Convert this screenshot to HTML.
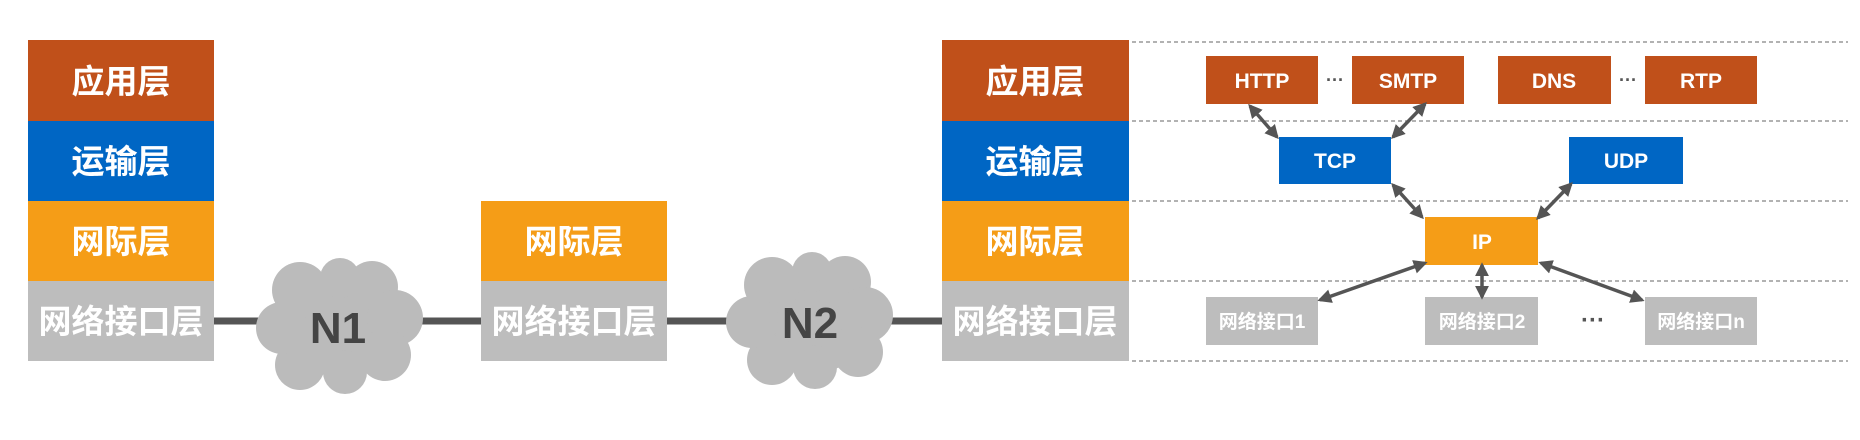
<!DOCTYPE html>
<html><head><meta charset="utf-8"><style>
body{margin:0;background:#fff;}
svg{display:block}
text{font-family:"Liberation Sans","Noto Sans CJK SC",sans-serif;font-weight:bold;}
</style></head><body>
<svg width="1860" height="440" viewBox="0 0 1860 440" xmlns="http://www.w3.org/2000/svg">
<defs>
<marker id="a" viewBox="0 0 10 10" refX="8" refY="5" markerWidth="4" markerHeight="4" orient="auto-start-reverse"><path d="M0,0L10,5L0,10z" fill="#555"/></marker>
</defs>
<!-- connecting line -->
<line x1="214" y1="321" x2="942" y2="321" stroke="#555" stroke-width="7"/>
<!-- left stack -->
<rect x="28" y="40" width="186" height="81" fill="#C0501A"/>
<rect x="28" y="121" width="186" height="80" fill="#0066C4"/>
<rect x="28" y="201" width="186" height="80" fill="#F59D17"/>
<rect x="28" y="281" width="186" height="80" fill="#BDBDBD"/>
<g fill="#fff" font-size="33" text-anchor="middle">
<text x="121" y="93">应用层</text>
<text x="121" y="173">运输层</text>
<text x="121" y="253">网际层</text>
<text x="121" y="333">网络接口层</text>
</g>
<!-- middle -->
<rect x="481" y="201" width="186" height="80" fill="#F59D17"/>
<rect x="481" y="281" width="186" height="80" fill="#BDBDBD"/>
<g fill="#fff" font-size="33" text-anchor="middle">
<text x="574" y="253">网际层</text>
<text x="574" y="333">网络接口层</text>
</g>
<!-- right stack -->
<rect x="942" y="40" width="187" height="81" fill="#C0501A"/>
<rect x="942" y="121" width="187" height="80" fill="#0066C4"/>
<rect x="942" y="201" width="187" height="80" fill="#F59D17"/>
<rect x="942" y="281" width="187" height="80" fill="#BDBDBD"/>
<g fill="#fff" font-size="33" text-anchor="middle">
<text x="1035" y="93">应用层</text>
<text x="1035" y="173">运输层</text>
<text x="1035" y="253">网际层</text>
<text x="1035" y="333">网络接口层</text>
</g>
<!-- clouds -->
<g fill="#BBBBBB">
<ellipse cx="340" cy="326" rx="70" ry="50"/>
<circle cx="300" cy="290" r="28"/><circle cx="340" cy="278" r="20"/><circle cx="372" cy="287" r="26"/>
<circle cx="395" cy="318" r="28"/><circle cx="385" cy="355" r="26"/><circle cx="345" cy="372" r="22"/>
<circle cx="300" cy="365" r="25"/><circle cx="282" cy="328" r="26"/>
</g>
<text x="338" y="343" font-size="44" fill="#444" text-anchor="middle">N1</text>
<g fill="#BBBBBB">
<ellipse cx="810" cy="322" rx="70" ry="50"/>
<circle cx="772" cy="285" r="28"/><circle cx="812" cy="272" r="20"/><circle cx="845" cy="282" r="26"/>
<circle cx="865" cy="315" r="28"/><circle cx="858" cy="352" r="25"/><circle cx="815" cy="367" r="22"/>
<circle cx="772" cy="360" r="25"/><circle cx="752" cy="322" r="26"/>
</g>
<text x="810" y="338" font-size="44" fill="#444" text-anchor="middle">N2</text>
<!-- dashed lines -->
<g stroke="#999" stroke-width="1.5" stroke-dasharray="4,3">
<line x1="1132" y1="42" x2="1848" y2="42"/>
<line x1="1132" y1="121" x2="1848" y2="121"/>
<line x1="1132" y1="201" x2="1848" y2="201"/>
<line x1="1132" y1="281" x2="1848" y2="281"/>
<line x1="1132" y1="361" x2="1848" y2="361"/>
</g>
<!-- app boxes -->
<g fill="#C0501A">
<rect x="1206" y="56" width="112" height="48"/><rect x="1352" y="56" width="112" height="48"/>
<rect x="1498" y="56" width="113" height="48"/><rect x="1645" y="56" width="112" height="48"/>
</g>
<g fill="#fff" font-size="21" text-anchor="middle">
<text x="1262" y="88">HTTP</text><text x="1408" y="88">SMTP</text>
<text x="1554" y="88">DNS</text><text x="1701" y="88">RTP</text>
</g>
<g fill="#555" font-size="18" text-anchor="middle">
<text x="1335" y="86">···</text><text x="1628" y="86">···</text>
</g>
<!-- transport -->
<rect x="1279" y="137" width="112" height="47" fill="#0066C4"/>
<rect x="1569" y="137" width="114" height="47" fill="#0066C4"/>
<g fill="#fff" font-size="21" text-anchor="middle">
<text x="1335" y="168">TCP</text><text x="1626" y="168">UDP</text>
</g>
<!-- IP -->
<rect x="1425" y="217" width="113" height="48" fill="#F59D17"/>
<text x="1482" y="249" fill="#fff" font-size="21" text-anchor="middle">IP</text>
<!-- interfaces -->
<g fill="#BDBDBD">
<rect x="1206" y="297" width="112" height="48"/><rect x="1425" y="297" width="113" height="48"/><rect x="1645" y="297" width="112" height="48"/>
</g>
<g fill="#fff" font-size="19" text-anchor="middle">
<text x="1262" y="328">网络接口1</text><text x="1482" y="328">网络接口2</text><text x="1701" y="328">网络接口n</text>
</g>
<text x="1593" y="328" fill="#555" font-size="24" text-anchor="middle">···</text>
<!-- arrows -->
<g stroke="#555" stroke-width="3.5" marker-start="url(#a)" marker-end="url(#a)">
<line x1="1250" y1="106" x2="1277" y2="137"/>
<line x1="1425" y1="104" x2="1393" y2="137"/>
<line x1="1393" y1="185" x2="1422" y2="217"/>
<line x1="1571" y1="184" x2="1538" y2="218"/>
<line x1="1425" y1="263" x2="1320" y2="300"/>
<line x1="1482" y1="265" x2="1482" y2="297"/>
<line x1="1541" y1="263" x2="1642" y2="300"/>
</g>
</svg>
</body></html>
